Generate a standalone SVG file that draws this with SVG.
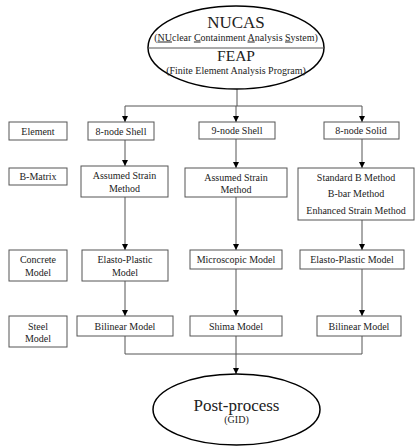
<svg xmlns="http://www.w3.org/2000/svg" width="419" height="446" viewBox="0 0 419 446" font-family="'Liberation Serif', Tinos, 'Times New Roman', 'DejaVu Serif', serif">
<defs>
<style>
text{font-family:'Liberation Serif', Tinos, 'Times New Roman', 'DejaVu Serif', serif;fill:#222;text-anchor:middle;font-size:10px}
.box{fill:#fff;stroke:#555;stroke-width:1}
.ell{fill:#fff;stroke:#000;stroke-width:1.5}
.con{fill:none;stroke:#555;stroke-width:1}
.big{font-size:17px}
.mid{font-size:15.5px}
</style>
<marker id="ah" viewBox="0 0 6 6" refX="6" refY="3" markerWidth="6" markerHeight="6" markerUnits="userSpaceOnUse" orient="auto">
<path d="M0,0 L6,3 L0,6 Z" fill="#000"/>
</marker>
</defs>
<rect width="419" height="446" fill="#fff"/>
<g id="connectors">
<path class="con" d="M237,89 V106 M125,106 H362"/>
<path class="con" d="M125,106 V122" marker-end="url(#ah)"/>
<path class="con" d="M236,106 V122" marker-end="url(#ah)"/>
<path class="con" d="M362,106 V122" marker-end="url(#ah)"/>
<path class="con" d="M125,140 V166" marker-end="url(#ah)"/>
<path class="con" d="M125,197 V250" marker-end="url(#ah)"/>
<path class="con" d="M125,281 V316" marker-end="url(#ah)"/>
<path class="con" d="M236,139 V168" marker-end="url(#ah)"/>
<path class="con" d="M236,197 V250" marker-end="url(#ah)"/>
<path class="con" d="M236,269 V316" marker-end="url(#ah)"/>
<path class="con" d="M362,139 V168" marker-end="url(#ah)"/>
<path class="con" d="M362,220 V250" marker-end="url(#ah)"/>
<path class="con" d="M362,269 V316" marker-end="url(#ah)"/>
<path class="con" d="M125,336 V354 H362 M362,336 V354"/>
<path class="con" d="M236,336 V374" marker-end="url(#ah)"/>
</g>
<g id="nucas">
<ellipse class="ell" cx="236" cy="47.5" rx="88" ry="41.5"/>
<line x1="148" y1="48" x2="324" y2="48" stroke="#555" stroke-width="1"/>
<text x="236" y="28" class="big">NUCAS</text>
<text x="236" y="40.5">(<tspan text-decoration="underline">NU</tspan>clear <tspan text-decoration="underline">C</tspan>ontainment <tspan text-decoration="underline">A</tspan>nalysis <tspan text-decoration="underline">S</tspan>ystem)</text>
<text x="236" y="61" class="mid">FEAP</text>
<text x="236" y="74">(Finite Element Analysis Program)</text>
</g>
<g id="lbl-element"><rect class="box" x="9" y="122" width="58" height="18"/><text x="38" y="134.5">Element</text></g>
<g id="lbl-bmatrix"><rect class="box" x="9" y="168" width="58" height="17"/><text x="38" y="180">B-Matrix</text></g>
<g id="lbl-concrete"><rect class="box" x="9" y="250" width="58" height="31"/><text x="38" y="263">Concrete</text><text x="38" y="276">Model</text></g>
<g id="lbl-steel"><rect class="box" x="9" y="316" width="58" height="31"/><text x="38" y="330">Steel</text><text x="38" y="342">Model</text></g>
<g id="shell8"><rect class="box" x="88" y="122" width="66" height="18"/><text x="121" y="134.5">8-node Shell</text></g>
<g id="shell9"><rect class="box" x="199" y="122" width="76" height="17"/><text x="237" y="134">9-node Shell</text></g>
<g id="solid8"><rect class="box" x="324" y="122" width="75" height="17"/><text x="361" y="134">8-node Solid</text></g>
<g id="asm1"><rect class="box" x="81" y="166" width="87" height="31"/><text x="124.5" y="179">Assumed Strain</text><text x="124.5" y="192">Method</text></g>
<g id="asm2"><rect class="box" x="185" y="168" width="102" height="29"/><text x="236" y="181">Assumed Strain</text><text x="236" y="193">Method</text></g>
<g id="bmethods"><rect class="box" x="298" y="168" width="116" height="52"/><text x="356" y="181">Standard B Method</text><text x="356" y="197">B-bar Method</text><text x="356" y="214">Enhanced Strain Method</text></g>
<g id="ep1"><rect class="box" x="82" y="250" width="86" height="31"/><text x="125" y="263">Elasto-Plastic</text><text x="125" y="276">Model</text></g>
<g id="micro"><rect class="box" x="190" y="250" width="92" height="19"/><text x="236" y="263">Microscopic Model</text></g>
<g id="ep3"><rect class="box" x="300" y="250" width="104" height="19"/><text x="352" y="263">Elasto-Plastic Model</text></g>
<g id="bil1"><rect class="box" x="77" y="316" width="96" height="20"/><text x="125" y="329.5">Bilinear Model</text></g>
<g id="shima"><rect class="box" x="190" y="316" width="92" height="20"/><text x="236" y="329.5">Shima Model</text></g>
<g id="bil3"><rect class="box" x="317" y="316" width="84" height="20"/><text x="359" y="329.5">Bilinear Model</text></g>
<g id="post">
<ellipse class="ell" cx="236.5" cy="409.5" rx="83.5" ry="35.5"/>
<text x="236.5" y="411" class="big">Post-process</text>
<text x="236.5" y="423">(GID)</text>
</g>
</svg>
